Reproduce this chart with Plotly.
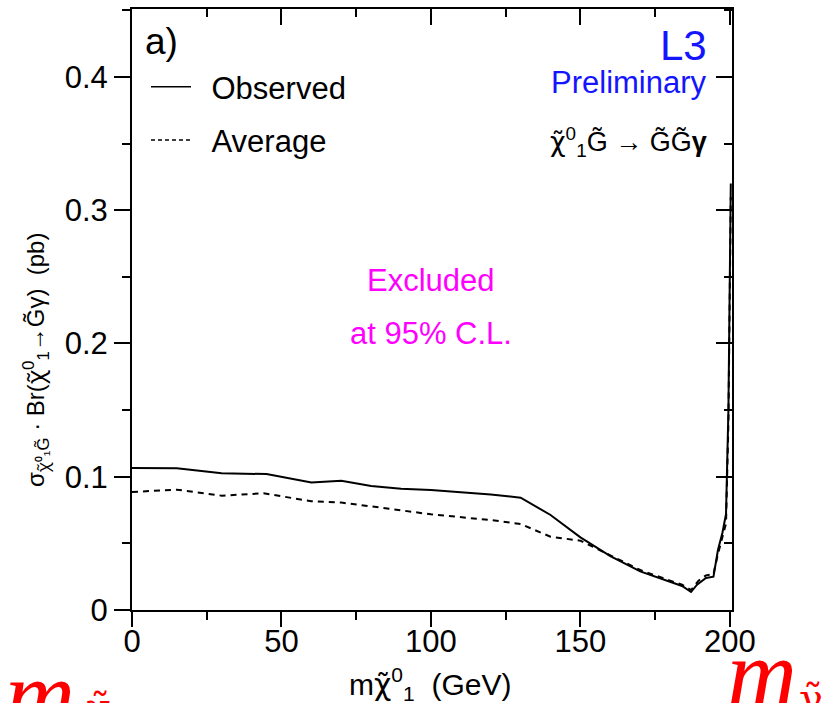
import plotly.graph_objects as go

# ---- data ----
obs_x = [0, 15, 30, 45, 60, 70, 80, 90, 100, 110, 120, 130, 140, 150, 160, 170, 180,
         184, 187, 189, 192, 194.5, 196, 197.5, 198.7, 199.5, 200.3]
obs_y = [0.1066, 0.1064, 0.1026, 0.1020, 0.0956, 0.0970, 0.0930, 0.0910, 0.0900, 0.0884,
         0.0866, 0.0843, 0.0713, 0.0545, 0.0405, 0.0290, 0.0215, 0.0180, 0.0135, 0.0190,
         0.0240, 0.0250, 0.0450, 0.0580, 0.0720, 0.1500, 0.3200]

avg_x = [0, 15, 30, 44, 60, 70, 86, 100, 120, 130, 140, 150, 160, 170, 180, 184, 187,
         189.5, 192, 194.5, 196, 197.5, 198.7, 199.5, 200.3]
avg_y = [0.0886, 0.0903, 0.0858, 0.0876, 0.0816, 0.0806, 0.0760, 0.0718, 0.0675, 0.0645,
         0.0550, 0.0520, 0.0410, 0.0300, 0.0220, 0.0190, 0.0150, 0.0220, 0.0260, 0.0270,
         0.0420, 0.0560, 0.0650, 0.1400, 0.3100]

x_ticks = [0, 50, 100, 150, 200]
x_ticklabels = ["0", "50", "100", "150", "200"]
y_ticks = [0, 0.1, 0.2, 0.3, 0.4]
y_ticklabels = ["0", "0.1", "0.2", "0.3", "0.4"]
x_range = [0, 200.7]
y_range = [0, 0.451]

FONT = "Liberation Sans"
W, H = 825, 703
L, R, T, B = 132, 732, 9, 610

CHI_D = "<span style='font-family:DejaVu Sans'>χ̃</span>"
CHI_N = "<span style='font-family:Noto Sans'>χ̃</span>"


def pxx(v):
    return (v - L) / (R - L)


def pxy(v):
    return (B - v) / (B - T)


fig = go.Figure()
fig.add_trace(go.Scatter(x=obs_x, y=obs_y, mode="lines",
                         line=dict(color="black", width=2), showlegend=False,
                         hoverinfo="skip"))
fig.add_trace(go.Scatter(x=avg_x, y=avg_y, mode="lines",
                         line=dict(color="black", width=2, dash="6px,5px"),
                         showlegend=False, hoverinfo="skip"))
# legend entries
fig.add_trace(go.Scatter(x=[None], y=[None], mode="lines", name="\u2002Observed",
                         line=dict(color="black", width=1.5), legendgroup="a"))
fig.add_trace(go.Scatter(x=[None], y=[None], mode="lines", name="\u2002Average",
                         line=dict(color="black", width=1.5, dash="4px,3px"),
                         legendgroup="b"))
# invisible trace to activate mirrored (top/right) axes
fig.add_trace(go.Scatter(x=obs_x, y=obs_y, mode="lines", xaxis="x2", yaxis="y2",
                         line=dict(color="rgba(0,0,0,0)", width=0), showlegend=False,
                         hoverinfo="skip"))

axis_common = dict(showgrid=False, zeroline=False, showline=True, linecolor="black",
                   linewidth=2, tickcolor="black", tickwidth=2)

fig.update_layout(
    width=W, height=H, autosize=False,
    margin=dict(l=L, r=W - R, t=T, b=H - B, pad=0),
    paper_bgcolor="white", plot_bgcolor="white",
    font=dict(family=FONT, color="black", size=31),
    xaxis=dict(range=x_range, tickvals=x_ticks, ticktext=x_ticklabels,
               ticks="outside", ticklen=15, ticklabelstandoff=-12,
               minor=dict(dtick=25, tick0=0, ticks="outside", ticklen=8,
                          tickwidth=2, tickcolor="black"),
               tickfont=dict(size=31, family=FONT), **axis_common),
    yaxis=dict(range=y_range, tickvals=y_ticks, ticktext=y_ticklabels,
               ticks="outside", ticklen=16,
               minor=dict(dtick=0.05, tick0=0, ticks="outside", ticklen=8,
                          tickwidth=2, tickcolor="black"),
               tickfont=dict(size=31, family=FONT), **axis_common),
    xaxis2=dict(range=x_range, overlaying="x", side="top", anchor="y2",
                tickvals=x_ticks, showticklabels=False, ticks="inside", ticklen=16,
                minor=dict(dtick=25, tick0=0, ticks="inside", ticklen=8,
                           tickwidth=2, tickcolor="black"),
                **axis_common),
    yaxis2=dict(range=y_range, overlaying="y", side="right", anchor="x2",
                tickvals=y_ticks, showticklabels=False, ticks="inside", ticklen=16,
                minor=dict(dtick=0.05, tick0=0, ticks="inside", ticklen=8,
                           tickwidth=2, tickcolor="black"),
                **axis_common),
    legend=dict(x=pxx(146), y=pxy(60), xanchor="left", yanchor="top",
                bgcolor="rgba(0,0,0,0)", font=dict(size=31, family=FONT),
                itemwidth=40, tracegroupgap=10),
    showlegend=True,
)

ann = []


def add(text, x, y, size, color="black", xanchor="center", yanchor="middle",
        family=FONT, angle=0):
    ann.append(dict(text=text, x=pxx(x), y=pxy(y), xref="paper", yref="paper",
                    showarrow=False, xanchor=xanchor, yanchor=yanchor,
                    textangle=angle,
                    font=dict(size=size, color=color, family=family)))


add("a)", 143, 42, 37, xanchor="left")
add("L3", 709, 46, 42, color="#1414ff", xanchor="right")
add("Preliminary", 709, 82, 31, color="#1414ff", xanchor="right")
add(CHI_D + "<sup>0</sup><sub>1</sub>G̃ → G̃G̃<b>γ</b>", 709, 142, 27, xanchor="right")
add("Excluded", 431, 280, 31, color="#ff00ff")
add("at 95% C.L.", 431, 333, 31, color="#ff00ff")
add("m" + CHI_D + "<sup>0</sup><sub>1</sub>  (GeV)", 430, 684, 30)
add("σ<sub>" + CHI_N + "⁰₁G̃</sub> · Br(" + CHI_N + "<sup>0</sup><sub>1</sub>→G̃γ)  (pb)",
    36, 360, 24, angle=-90)
# red symbols partly outside the picture at the bottom
add("<i>m</i>", 3, 639, 97, color="#ff0000", xanchor="left", yanchor="top",
    family="Liberation Serif")
add("<span style='font-family:DejaVu Serif'>χ̃</span>", 84, 682, 40, color="#ff0000",
    xanchor="left", yanchor="top", family="DejaVu Serif")
add("<i>m</i>", 725, 618, 97, color="#ff0000", xanchor="left", yanchor="top",
    family="Liberation Serif")
add("γ̃", 797, 673, 40, color="#ff0000", xanchor="left", yanchor="top",
    family="DejaVu Serif")

fig.update_layout(annotations=ann)
fig.write_html("out.html")
